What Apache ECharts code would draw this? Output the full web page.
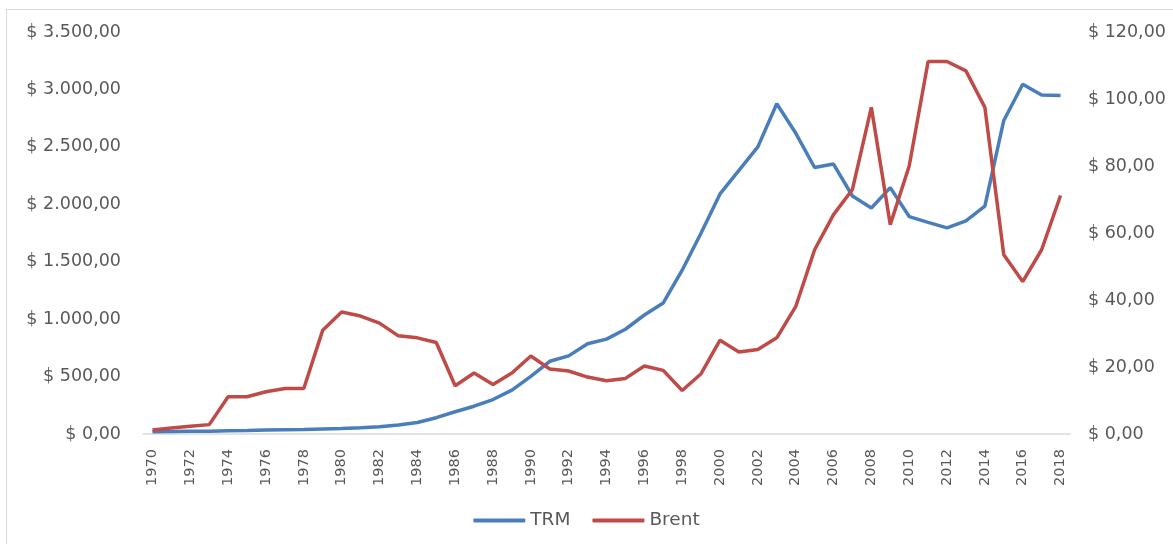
<!DOCTYPE html>
<html>
<head>
<meta charset="utf-8">
<title>TRM vs Brent</title>
<script src="https://cdn.jsdelivr.net/npm/echarts@6/dist/echarts.min.js"></script>
<style>
    html, body { margin: 0; padding: 0; background: #fff; }
    #frame {
        position: absolute; left: 6px; top: 9px; width: 1300px; height: 700px;
        border-top: 1px solid #d9d9d9; border-left: 1px solid #d9d9d9;
    }
    #chart { position: absolute; left: 0; top: 0; width: 1173px; height: 544px; }
</style>
</head>
<body>
<div id="frame"></div>
<div id="chart"></div>
<script>
const years = ['1970', '1971', '1972', '1973', '1974', '1975', '1976', '1977', '1978', '1979',
    '1980', '1981', '1982', '1983', '1984', '1985', '1986', '1987', '1988', '1989',
    '1990', '1991', '1992', '1993', '1994', '1995', '1996', '1997', '1998', '1999',
    '2000', '2001', '2002', '2003', '2004', '2005', '2006', '2007', '2008', '2009',
    '2010', '2011', '2012', '2013', '2014', '2015', '2016', '2017', '2018'];

// tasa representativa del mercado (COP por USD), eje izquierdo
const trm = [19, 21, 23, 25, 28, 31, 35, 37, 39, 43,
    47, 54, 64, 79, 100, 142, 194, 242, 300, 382,
    502, 633, 680, 786, 826, 912, 1036, 1141, 1426, 1750,
    2090, 2295, 2500, 2875, 2620, 2320, 2350, 2072, 1968, 2145,
    1893, 1842, 1795, 1855, 1985, 2730, 3045, 2951, 2948];

// precio Brent (USD), eje derecho
const brent = [1.2, 1.8, 2.3, 2.8, 11.1, 11.1, 12.6, 13.6, 13.6, 31,
    36.4, 35.2, 33.1, 29.3, 28.7, 27.3, 14.4, 18.2, 14.8, 18.2,
    23.3, 19.4, 18.8, 17, 15.9, 16.6, 20.3, 19, 13, 18,
    28, 24.5, 25.2, 28.7, 38, 55, 65.5, 73, 97.5, 62.5,
    80, 111.2, 111.2, 108.4, 97.5, 53.5, 45.5, 55, 71.2];

const leftTicks = { min: 0, max: 3500, interval: 500 };
const rightTicks = { min: 0, max: 120, interval: 20 };

function money (v) {
    const parts = v.toFixed(2).split('.');
    const ent = parts[0].replace(/\B(?=(\d{3})+(?!\d))/g, '.');
    return '$ ' + ent + ',' + parts[1];
}

const labelColor = '#595959';
const font = 'DejaVu Sans';

const chart = echarts.init(document.getElementById('chart'));
chart.setOption({
    backgroundColor: 'transparent',
    animation: false,
    grid: { left: 143, right: 103, top: 32, bottom: 110, containLabel: false },
    legend: {
        data: ['TRM', 'Brent'],
        bottom: 9,
        left: 'center',
        icon: 'roundRect',
        itemWidth: 52,
        itemHeight: 4,
        itemGap: 22,
        textStyle: { color: labelColor, fontSize: 18.5, fontFamily: font }
    },
    xAxis: {
        type: 'category',
        data: years,
        boundaryGap: true,
        axisLine: { lineStyle: { color: '#d9d9d9', width: 1.5 } },
        axisTick: { show: false },
        axisLabel: {
            interval: 1,
            rotate: 90,
            margin: 15,
            color: labelColor,
            fontSize: 14.5,
            fontFamily: font
        }
    },
    yAxis: [
        {
            type: 'value',
            min: leftTicks.min, max: leftTicks.max, interval: leftTicks.interval,
            axisLine: { show: false },
            axisTick: { show: false },
            splitLine: { show: false },
            axisLabel: { margin: 22, color: labelColor, fontSize: 17.5, fontFamily: font, formatter: money }
        },
        {
            type: 'value',
            min: rightTicks.min, max: rightTicks.max, interval: rightTicks.interval,
            axisLine: { show: false },
            axisTick: { show: false },
            splitLine: { show: false },
            axisLabel: { margin: 18, color: labelColor, fontSize: 17.5, fontFamily: font, formatter: money }
        }
    ],
    series: [
        {
            name: 'TRM',
            type: 'line',
            yAxisIndex: 0,
            data: trm,
            showSymbol: false,
            itemStyle: { color: '#4a7ebb' },
            lineStyle: { color: '#4a7ebb', width: 3.5 }
        },
        {
            name: 'Brent',
            type: 'line',
            yAxisIndex: 1,
            data: brent,
            showSymbol: false,
            itemStyle: { color: '#be4b48' },
            lineStyle: { color: '#be4b48', width: 3.5 }
        }
    ]
});

window.addEventListener('resize', function () {
    chart.resize();
});
</script>
</body>
</html>
